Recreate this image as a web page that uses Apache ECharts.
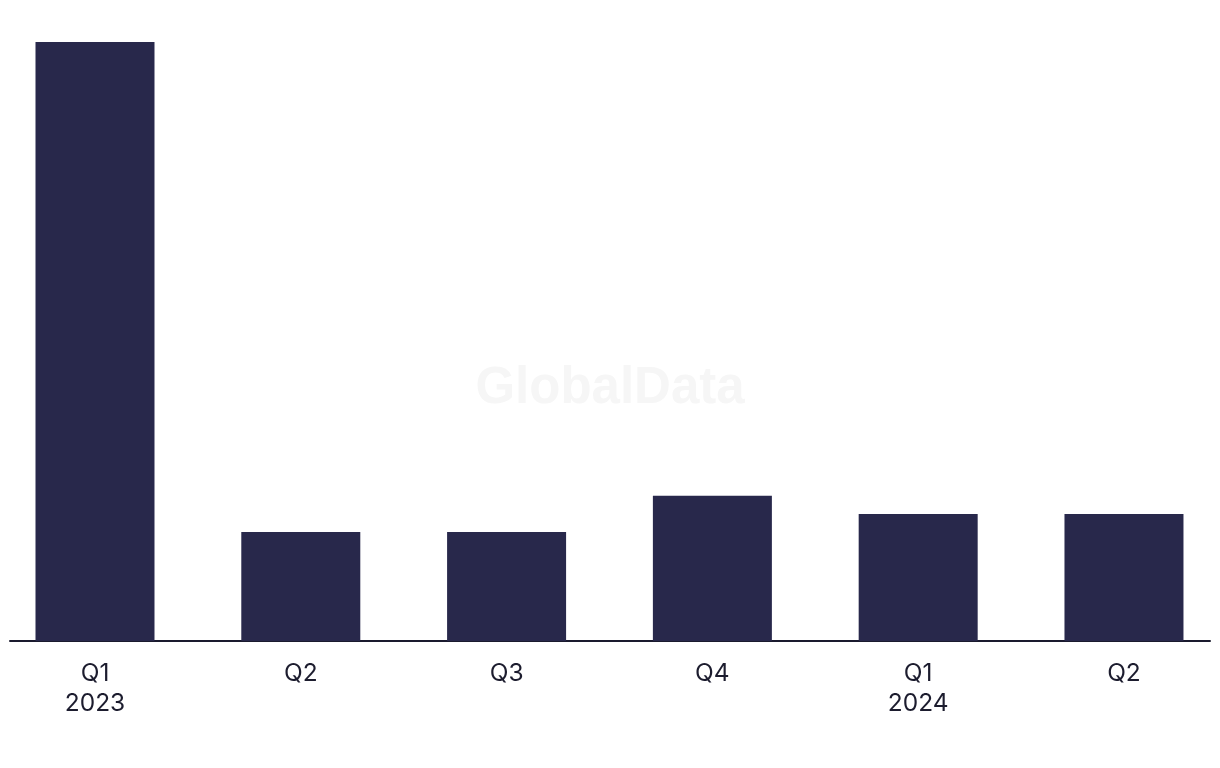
<!DOCTYPE html>
<html><head><meta charset="utf-8">
<script src="https://cdn.jsdelivr.net/npm/echarts@6/dist/echarts.min.js"></script>
<style>html,body{margin:0;padding:0;background:#fff}#c{width:1220px;height:768px}</style>
</head><body><div id="c"></div>
<script>
const categories = ['Q1\n2023', 'Q2', 'Q3', 'Q4', 'Q1\n2024', 'Q2'];
const values = [33, 6, 6, 8, 7, 7];
const positions = [0, 1, 2, 3, 4, 5];

const chart = echarts.init(document.getElementById('c'), null, {renderer: 'canvas'});
const font = 'Inter, Liberation Sans, Arial, sans-serif';
chart.setOption({
  animation: false,
  backgroundColor: '#ffffff',
  graphic: [{
    type: 'text', left: 'center', top: 363,
    style: {text: 'GlobalData', fontSize: 51, fontWeight: 'bold', fontFamily: 'Liberation Sans, Arial, sans-serif', fill: '#f6f6f6'},
    z: 0
  }],
  grid: {left: 10, right: 10, top: 42, bottom: 127, containLabel: false},
  xAxis: {
    type: 'value', min: -0.413, max: 5.418,
    splitLine: {show: false},
    axisLine: {show: true, onZero: false, lineStyle: {color: '#1a1a2e', width: 2}},
    axisTick: {show: false},
    axisLabel: {
      customValues: positions,
      formatter: v => categories[Math.round(v)],
      color: '#1c1c2e', fontSize: 24.5, fontFamily: font, lineHeight: 30, margin: 18,
      showMinLabel: true, showMaxLabel: true
    }
  },
  yAxis: {type: 'value', min: 0, max: 33, show: false, splitLine: {show: false}},
  series: [{
    type: 'bar', data: positions.map((p, i) => [p, values[i]]), barWidth: 119,
    itemStyle: {color: '#28284b'}, z: 2
  }]
});
</script></body></html>
